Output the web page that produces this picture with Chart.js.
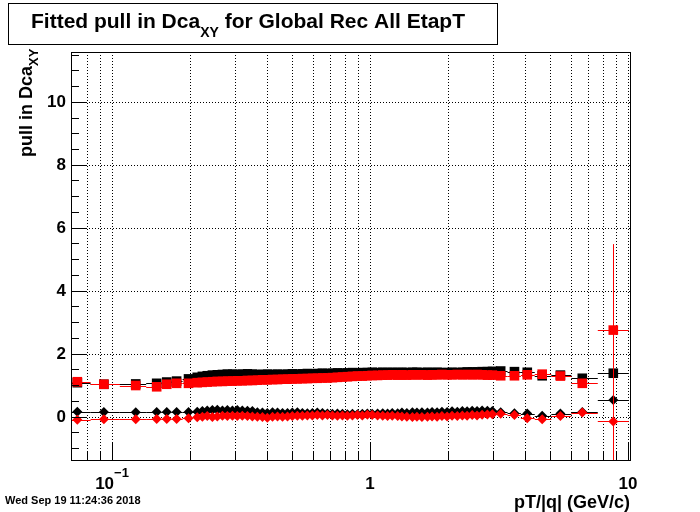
<!DOCTYPE html>
<html>
<head>
<meta charset="utf-8">
<script src="https://cdn.jsdelivr.net/npm/chart.js@4.4.0/dist/chart.umd.min.js"></script>
<style>
  html, body { margin: 0; padding: 0; background: #fff; }
  canvas { display: block; }
</style>
</head>
<body>
<canvas id="pull" width="700" height="512"></canvas>
<script>
// bin centres, pT/|q| in GeV/c
const ptBins = [
  0.0734, 0.093, 0.1236, 0.149, 0.163, 0.178, 0.198,
  0.214, 0.224, 0.234, 0.245, 0.256, 0.268, 0.280, 0.293, 0.306, 0.320,
  0.335, 0.350, 0.366, 0.383, 0.400, 0.419, 0.438, 0.458, 0.479, 0.500,
  0.523, 0.547, 0.572, 0.598, 0.625, 0.654, 0.684, 0.715, 0.748, 0.782,
  0.817, 0.855, 0.894, 0.934, 0.977, 1.02, 1.07, 1.12, 1.17, 1.22,
  1.28, 1.33, 1.39, 1.46, 1.52, 1.59, 1.67, 1.74, 1.82, 1.90,
  1.99, 2.08, 2.18, 2.28, 2.38, 2.49, 2.60, 2.72, 2.85, 2.98,
  3.21, 3.63, 4.07, 4.65, 5.47, 6.65, 8.77
];

// black squares
const blackSquares = [
  1.08, 1.03, 1.04, 1.06, 1.10, 1.13, 1.20,
  1.25, 1.28, 1.30, 1.32, 1.33, 1.34, 1.35, 1.35, 1.34, 1.35,
  1.36, 1.35, 1.34, 1.34, 1.35, 1.34, 1.35, 1.34, 1.35, 1.36,
  1.35, 1.36, 1.37, 1.36, 1.37, 1.38, 1.37, 1.38, 1.39, 1.38,
  1.39, 1.40, 1.39, 1.40, 1.40, 1.41, 1.40, 1.41, 1.40, 1.41,
  1.40, 1.41, 1.40, 1.41, 1.41, 1.40, 1.41, 1.40, 1.41, 1.40,
  1.40, 1.41, 1.40, 1.41, 1.42, 1.42, 1.42, 1.43, 1.43, 1.44,
  1.45, 1.43, 1.41, 1.30, 1.32, 1.22, 1.38
];

// red squares
const redSquares = [
  1.11, 1.03, 0.99, 0.95, 1.03, 1.06, 1.06,
  1.08, 1.09, 1.10, 1.11, 1.12, 1.12, 1.13, 1.13, 1.14, 1.14,
  1.15, 1.15, 1.16, 1.17, 1.17, 1.18, 1.18, 1.19, 1.19, 1.20,
  1.20, 1.21, 1.21, 1.22, 1.22, 1.23, 1.23, 1.24, 1.25, 1.26,
  1.27, 1.28, 1.29, 1.29, 1.30, 1.31, 1.31, 1.32, 1.32, 1.33,
  1.32, 1.33, 1.32, 1.33, 1.33, 1.33, 1.32, 1.33, 1.33, 1.34,
  1.33, 1.33, 1.34, 1.33, 1.34, 1.33, 1.34, 1.33, 1.32, 1.32,
  1.30, 1.30, 1.33, 1.35, 1.29, 1.06, 2.75
];

// black diamonds
const blackDiamonds = [
  0.16, 0.15, 0.14, 0.15, 0.15, 0.15, 0.15,
  0.16, 0.18, 0.20, 0.21, 0.22, 0.20, 0.21, 0.20, 0.21, 0.20,
  0.19, 0.18, 0.14, 0.13, 0.12, 0.14, 0.13, 0.12, 0.12, 0.13,
  0.14, 0.12, 0.11, 0.12, 0.13, 0.12, 0.10, 0.09, 0.10, 0.09,
  0.08, 0.09, 0.08, 0.09, 0.10, 0.09, 0.10, 0.11, 0.10, 0.12,
  0.11, 0.13, 0.12, 0.14, 0.13, 0.14, 0.13, 0.15, 0.14, 0.16,
  0.15, 0.17, 0.16, 0.18, 0.17, 0.19, 0.18, 0.20, 0.19, 0.18,
  0.14, 0.11, 0.10, 0.03, 0.10, 0.15, 0.53
];

// red diamonds
const redDiamonds = [
  -0.10, -0.08, -0.08, -0.07, -0.07, -0.07, -0.05,
  -0.02, 0.00, 0.02, -0.01, 0.01, 0.03, 0.02, 0.03, 0.02, 0.03,
  0.02, 0.01, 0.00, -0.01, -0.03, 0.00, 0.01, 0.00, 0.01, 0.02,
  0.03, 0.03, 0.04, 0.04, 0.05, 0.04, 0.05, 0.04, 0.03, 0.04,
  0.03, 0.04, 0.05, 0.04, 0.06, 0.05, 0.04, 0.03, 0.02, 0.03,
  0.02, 0.01, 0.00, -0.01, 0.00, -0.01, 0.00, 0.01, 0.00, 0.02,
  0.01, 0.03, 0.02, 0.04, 0.03, 0.05, 0.04, 0.06, 0.07, 0.08,
  0.09, 0.05, -0.05, -0.08, 0.02, 0.13, -0.15
];

// vertical errors, only visible in the last bin (same order as the four series)
const lastBinErrors = [0.3, 2.73, 0.3, 2.0];

const xMajorTicks = [0.1, 1, 10];
const xMinorTicks = [0.08, 0.09, 0.2, 0.3, 0.4, 0.5, 0.6, 0.7, 0.8, 0.9, 2, 3, 4, 5, 6, 7, 8, 9];
const xTickLabels = [['10', '\u22121'], ['1', ''], ['10', '']];
const yMajorTicks = [0, 2, 4, 6, 8, 10];
const yMinorTicks = [-1, -0.5, 0.5, 1, 1.5, 2.5, 3, 3.5, 4.5, 5, 5.5, 6.5, 7, 7.5, 8.5, 9, 9.5, 10.5, 11, 11.5];
const yTickLabels = ['0', '2', '4', '6', '8', '10'];

const FONT = '"Liberation Sans", Arial, sans-serif';

function points(values, k) {
  return ptBins.map((x, i) => ({ x: x, y: values[i], err: i === ptBins.length - 1 ? lastBinErrors[k] : 0 }));
}

// bin edges half way (in log) between neighbouring centres
function binEdges(i) {
  const n = ptBins.length;
  const c = ptBins[i];
  const lo = i > 0 ? Math.sqrt(ptBins[i - 1] * c) : c * c / Math.sqrt(c * ptBins[i + 1]);
  const hi = i < n - 1 ? Math.sqrt(c * ptBins[i + 1]) : c * c / Math.sqrt(ptBins[i - 1] * c);
  return [lo, hi];
}

// error bars of one graph, drawn just before its markers
const errorBars = {
  id: 'errorBars',
  beforeDatasetDraw(chart, args) {
    const ds = chart.data.datasets[args.index];
    const xs = chart.scales.x, ys = chart.scales.y, a = chart.chartArea, ctx = chart.ctx;
    ctx.save();
    ctx.beginPath();
    ctx.rect(a.left, a.top, a.right - a.left, a.bottom - a.top);
    ctx.clip();
    ctx.strokeStyle = ds.borderColor;
    ctx.lineWidth = 1;
    ctx.beginPath();
    ds.data.forEach((p, i) => {
      const e = binEdges(i);
      const py = Math.round(ys.getPixelForValue(p.y)) + 0.5;
      ctx.moveTo(xs.getPixelForValue(e[0]), py);
      ctx.lineTo(xs.getPixelForValue(e[1]), py);
      if (p.err) {
        const px = Math.round(xs.getPixelForValue(p.x)) + 0.5;
        ctx.moveTo(px, ys.getPixelForValue(p.y + p.err));
        ctx.lineTo(px, ys.getPixelForValue(p.y - p.err));
      }
    });
    ctx.stroke();
    ctx.restore();
  }
};

// ROOT-like frame: dotted grid, inside ticks, labels, titles
const rootFrame = {
  id: 'rootFrame',
  beforeDatasetsDraw(chart) {
    const xs = chart.scales.x, ys = chart.scales.y, a = chart.chartArea, ctx = chart.ctx;
    ctx.save();
    ctx.strokeStyle = '#000';
    ctx.lineWidth = 1;
    ctx.setLineDash([1, 2]);
    ctx.beginPath();
    xMinorTicks.concat(xMajorTicks).forEach(v => {
      const px = Math.round(xs.getPixelForValue(v)) + 0.5;
      ctx.moveTo(px, a.top);
      ctx.lineTo(px, a.bottom);
    });
    yMajorTicks.forEach(v => {
      const py = Math.round(ys.getPixelForValue(v)) + 0.5;
      ctx.moveTo(a.left, py);
      ctx.lineTo(a.right, py);
    });
    ctx.stroke();
    ctx.restore();
  },
  afterDraw(chart) {
    const xs = chart.scales.x, ys = chart.scales.y, a = chart.chartArea, ctx = chart.ctx;
    ctx.save();
    ctx.strokeStyle = '#000';
    ctx.fillStyle = '#000';
    ctx.lineWidth = 1;

    // frame
    ctx.strokeRect(Math.round(a.left) + 0.5, Math.round(a.top) + 0.5,
      Math.round(a.right - a.left), Math.round(a.bottom - a.top));

    // ticks
    ctx.beginPath();
    xMinorTicks.forEach(v => {
      const px = Math.round(xs.getPixelForValue(v)) + 0.5;
      ctx.moveTo(px, a.bottom); ctx.lineTo(px, a.bottom - 9);
    });
    xMajorTicks.forEach(v => {
      const px = Math.round(xs.getPixelForValue(v)) + 0.5;
      ctx.moveTo(px, a.bottom); ctx.lineTo(px, a.bottom - 17);
    });
    yMinorTicks.forEach(v => {
      const py = Math.round(ys.getPixelForValue(v)) + 0.5;
      ctx.moveTo(a.left, py); ctx.lineTo(a.left + 8, py);
    });
    yMajorTicks.forEach(v => {
      const py = Math.round(ys.getPixelForValue(v)) + 0.5;
      ctx.moveTo(a.left, py); ctx.lineTo(a.left + 16, py);
    });
    ctx.stroke();

    // y tick labels
    ctx.font = 'bold 17px ' + FONT;
    ctx.textAlign = 'right';
    ctx.textBaseline = 'middle';
    yMajorTicks.forEach((v, i) => ctx.fillText(yTickLabels[i], a.left - 5, ys.getPixelForValue(v) + 1));

    // x tick labels, with exponent
    ctx.textAlign = 'left';
    ctx.textBaseline = 'alphabetic';
    xMajorTicks.forEach((v, i) => {
      const [base, sup] = xTickLabels[i];
      ctx.font = 'bold 17px ' + FONT;
      const wb = ctx.measureText(base).width;
      ctx.font = 'bold 13px ' + FONT;
      const ws = sup ? ctx.measureText(sup).width : 0;
      const x0 = xs.getPixelForValue(v) - (wb + ws) / 2;
      ctx.font = 'bold 17px ' + FONT;
      ctx.fillText(base, x0, 489);
      if (sup) {
        ctx.font = 'bold 13px ' + FONT;
        ctx.fillText(sup, x0 + wb, 477);
      }
    });

    // x axis title
    ctx.font = 'bold 18px ' + FONT;
    ctx.textAlign = 'right';
    ctx.fillText('pT/|q| (GeV/c)', a.right, 508);

    // y axis title, rotated, with subscript
    ctx.save();
    ctx.translate(32, 157);
    ctx.rotate(-Math.PI / 2);
    ctx.textAlign = 'left';
    ctx.font = 'bold 18px ' + FONT;
    const yMain = 'pull in Dca';
    ctx.fillText(yMain, 0, 0);
    const wy = ctx.measureText(yMain).width;
    ctx.font = 'bold 13px ' + FONT;
    ctx.fillText('XY', wy, 6);
    ctx.restore();

    // title box
    ctx.fillStyle = '#fff';
    ctx.fillRect(8, 3, 489, 41);
    ctx.strokeRect(8.5, 3.5, 489, 41);
    ctx.fillStyle = '#000';
    ctx.textAlign = 'left';
    const t1 = 'Fitted pull in Dca', t2 = 'XY', t3 = ' for Global Rec All EtapT';
    ctx.font = 'bold 21px ' + FONT;
    const w1 = ctx.measureText(t1).width, w3 = ctx.measureText(t3).width;
    ctx.font = 'bold 14px ' + FONT;
    const w2 = ctx.measureText(t2).width;
    let tx = 248 - (w1 + w2 + w3) / 2;
    ctx.font = 'bold 21px ' + FONT;
    ctx.fillText(t1, tx, 28);
    ctx.font = 'bold 14px ' + FONT;
    ctx.fillText(t2, tx + w1, 37);
    ctx.font = 'bold 21px ' + FONT;
    ctx.fillText(t3, tx + w1 + w2, 28);

    // date stamp
    ctx.font = 'bold 11px ' + FONT;
    ctx.fillText('Wed Sep 19 11:24:36 2018', 5, 504);
    ctx.restore();
  }
};

const squareRadius = 6.8;
const diamondRadius = 5;

new Chart(document.getElementById('pull'), {
  type: 'scatter',
  data: {
    datasets: [
      { label: 'black squares', data: points(blackSquares, 0), pointStyle: 'rect', pointRadius: squareRadius,
        backgroundColor: '#000', borderColor: '#000', pointBorderWidth: 0, order: 4 },
      { label: 'red squares', data: points(redSquares, 1), pointStyle: 'rect', pointRadius: squareRadius,
        backgroundColor: '#ff0000', borderColor: '#ff0000', pointBorderWidth: 0, order: 3 },
      { label: 'black diamonds', data: points(blackDiamonds, 2), pointStyle: 'rectRot', pointRadius: diamondRadius,
        backgroundColor: '#000', borderColor: '#000', pointBorderWidth: 0, order: 2 },
      { label: 'red diamonds', data: points(redDiamonds, 3), pointStyle: 'rectRot', pointRadius: diamondRadius,
        backgroundColor: '#ff0000', borderColor: '#ff0000', pointBorderWidth: 0, order: 1 }
    ]
  },
  options: {
    responsive: false,
    animation: false,
    events: [],
    layout: { padding: { left: 71, right: 70, top: 52, bottom: 52 } },
    plugins: { legend: { display: false }, tooltip: { enabled: false } },
    scales: {
      x: { type: 'logarithmic', min: 0.06936, max: 10.18, display: false },
      y: { type: 'linear', min: -1.375, max: 11.58, display: false }
    }
  },
  plugins: [errorBars, rootFrame]
});
</script>
</body>
</html>
